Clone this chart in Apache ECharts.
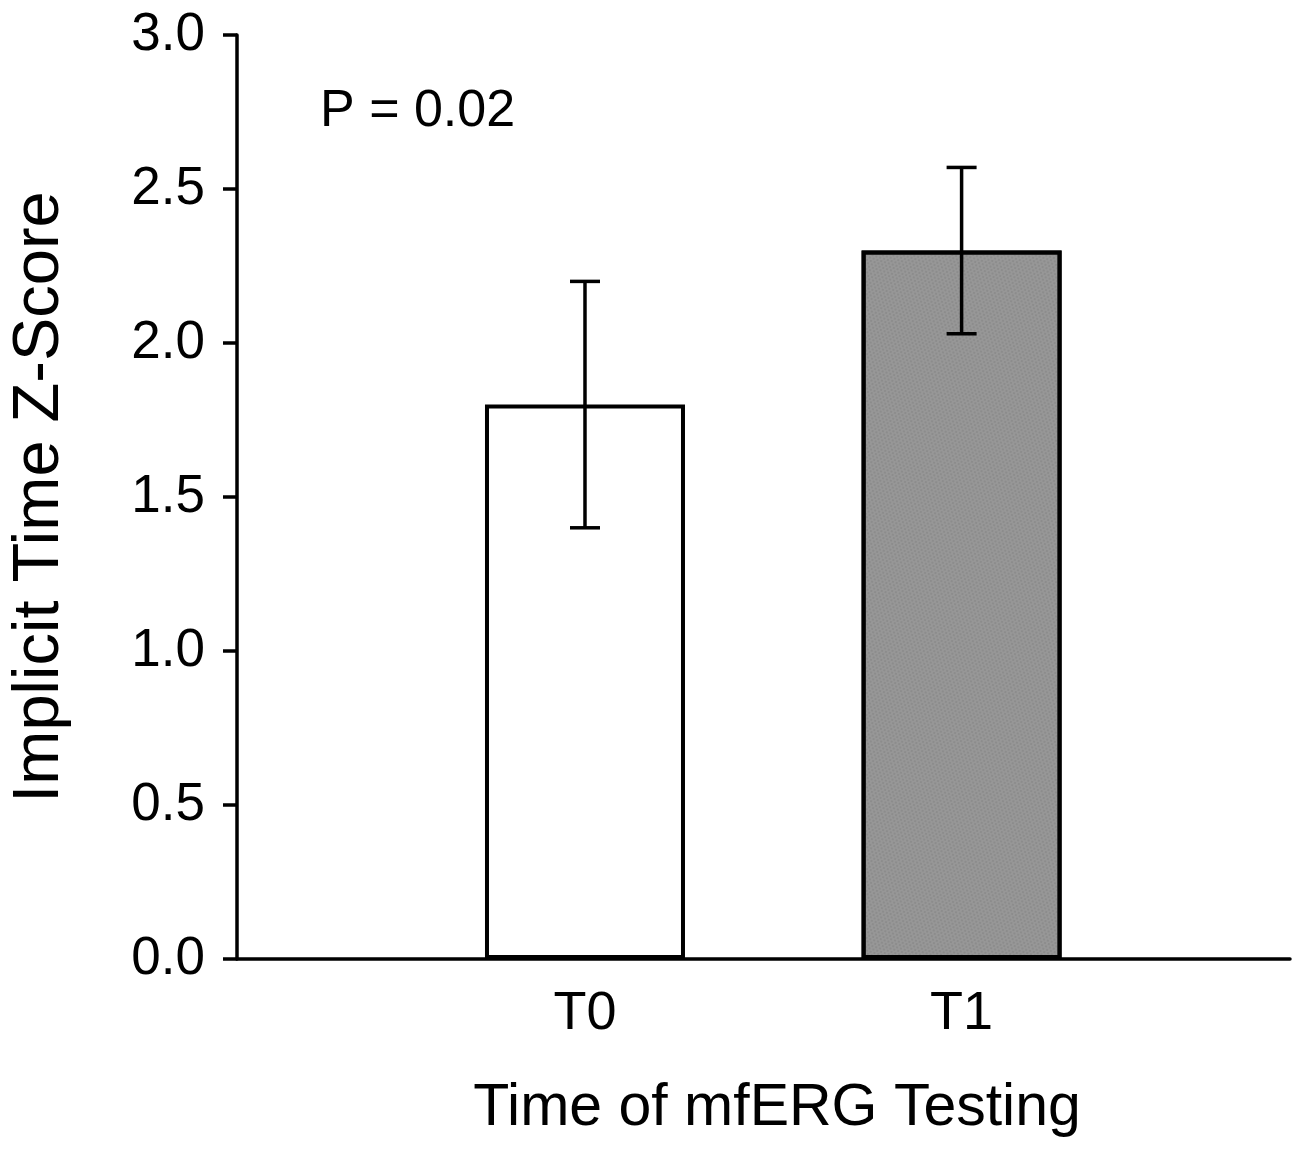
<!DOCTYPE html>
<html>
<head>
    <meta charset="UTF-8">
    <title>Implicit Time Z-Score</title>
    <script src="https://cdn.jsdelivr.net/npm/echarts@latest/dist/echarts.min.js"></script>
    <style>
        html, body {
            margin: 0;
            padding: 0;
            height: 100%;
            background: #fff;
        }
        #chart {
            width: 1298px;
            height: 1150px;
        }
    </style>
</head>
<body>
<div id="chart"></div>
<script>
    // data
    var categories = ['T0', 'T1'];
    var positions = [1, 2];
    var means = [1.8, 2.3];
    var errLow = [1.4, 2.03];
    var errHigh = [2.2, 2.57];
    var barColors = ['#ffffff', '#979797'];
    var yTicks = [0, 0.5, 1.0, 1.5, 2.0, 2.5, 3.0];
    var pText = 'P = 0.02';

    var font = 'Liberation Sans, Arial, sans-serif';
    var chart = echarts.init(document.getElementById('chart'));

    var barData = means.map(function (v, i) {
        var item = {
            value: [positions[i], v],
            itemStyle: { color: barColors[i] }
        };
        if (i === 1) {
            // fine stipple on the grey bar
            item.itemStyle.decal = {
                symbol: 'circle',
                symbolSize: 0.7,
                color: 'rgba(70,70,70,0.35)',
                dashArrayX: [[2, 2], [0, 2, 2, 0]],
                dashArrayY: [2, 1],
                rotation: 0.3
            };
        }
        return item;
    });

    var errData = positions.map(function (p, i) {
        return [p, errLow[i], errHigh[i]];
    });

    var option = {
        animation: false,
        grid: { left: 237, right: 8, top: 35, bottom: 191 },
        graphic: [{
            type: 'text',
            left: 320,
            top: 86,
            style: {
                text: pText,
                font: '52px ' + font,
                fill: '#000'
            }
        }],
        xAxis: {
            type: 'value',
            min: 0.076,
            max: 2.872,
            name: 'Time of mfERG Testing',
            nameLocation: 'middle',
            nameGap: 120,
            nameTextStyle: { fontSize: 59, fontFamily: font, color: '#000', padding: [0, 0, 0, 27] },
            axisLine: { onZero: false, lineStyle: { color: '#000', width: 3.5 } },
            axisTick: { show: false },
            splitLine: { show: false },
            axisLabel: {
                customValues: positions,
                margin: 28,
                fontSize: 54,
                fontFamily: font,
                color: '#000',
                formatter: function (v) {
                    var idx = positions.indexOf(v);
                    return idx >= 0 ? categories[idx] : '';
                }
            }
        },
        yAxis: {
            type: 'value',
            min: 0,
            max: 3,
            interval: 0.5,
            name: 'Implicit Time Z-Score',
            nameLocation: 'middle',
            nameGap: 164,
            nameTextStyle: { fontSize: 65, fontFamily: font, color: '#000' },
            axisLine: { show: true, lineStyle: { color: '#000', width: 3.5 } },
            axisTick: { show: true, length: 14, lineStyle: { color: '#000', width: 3.5 } },
            splitLine: { show: false },
            axisLabel: {
                margin: 32,
                fontSize: 53,
                fontFamily: font,
                color: '#000',
                customValues: yTicks,
                formatter: function (v) { return v.toFixed(1); }
            }
        },
        series: [{
            type: 'bar',
            barWidth: 200,
            data: barData,
            itemStyle: { borderColor: '#000', borderWidth: 4 }
        }, {
            type: 'custom',
            data: errData,
            z: 5,
            renderItem: function (params, api) {
                var x = api.value(0);
                var lo = api.coord([x, api.value(1)]);
                var hi = api.coord([x, api.value(2)]);
                var cap = 15;
                var style = { stroke: '#000', lineWidth: 3.5 };
                return {
                    type: 'group',
                    children: [
                        { type: 'line', shape: { x1: lo[0], y1: lo[1], x2: hi[0], y2: hi[1] }, style: style },
                        { type: 'line', shape: { x1: hi[0] - cap, y1: hi[1], x2: hi[0] + cap, y2: hi[1] }, style: style },
                        { type: 'line', shape: { x1: lo[0] - cap, y1: lo[1], x2: lo[0] + cap, y2: lo[1] }, style: style }
                    ]
                };
            }
        }]
    };

    chart.setOption(option);
</script>
</body>
</html>
